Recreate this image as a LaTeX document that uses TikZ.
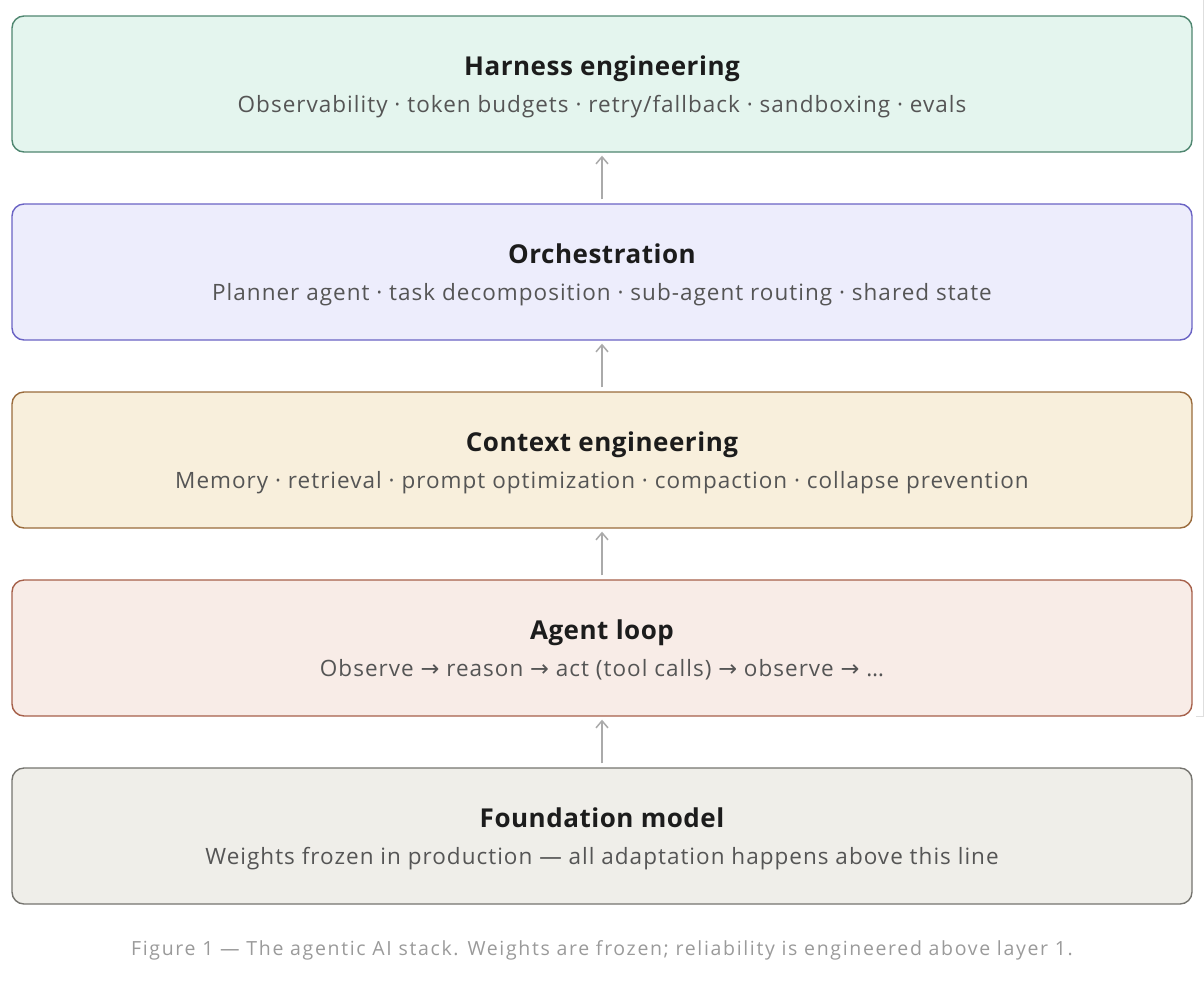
\documentclass[tikz,border=0pt]{standalone}
\usepackage{fontspec}
\setmainfont{Open Sans}
\newfontfamily\symfont{DejaVu Sans}
\usetikzlibrary{arrows.meta}
\definecolor{f1}{HTML}{E4F5EE}\definecolor{d1}{HTML}{4F8670}
\definecolor{f2}{HTML}{EDEDFC}\definecolor{d2}{HTML}{6A63C4}
\definecolor{f3}{HTML}{F8EFDC}\definecolor{d3}{HTML}{9A6B3C}
\definecolor{f4}{HTML}{F8ECE7}\definecolor{d4}{HTML}{A6604A}
\definecolor{f5}{HTML}{EFEEE9}\definecolor{d5}{HTML}{75746F}
\definecolor{titlec}{HTML}{1C1C1C}
\definecolor{subc}{HTML}{555555}
\definecolor{capc}{HTML}{9A9A9A}
\definecolor{arrc}{HTML}{AAAAAA}
\newcommand{\ra}{{\symfont →}}
\tikzset{
  layer/.style={draw=#1, rounded corners=12pt, line width=1.4pt, minimum width=1180pt, minimum height=136pt, inner sep=0pt},
  ttl/.style={font=\fontsize{26}{30}\selectfont\bfseries\addfontfeatures{LetterSpace=2}, text=titlec, inner sep=0pt, anchor=base},
  sub/.style={font=\fontsize{22.5}{26}\selectfont\addfontfeatures{LetterSpace=4.5}, text=subc, inner sep=0pt, anchor=base},
  up/.style={draw=arrc, line width=1.5pt, -{Straight Barb[length=7pt, width=12pt, line width=1.5pt]}, shorten <=4pt, shorten >=3pt}
}
\begin{document}
\begin{tikzpicture}[x=1pt, y=-1pt]
\useasboundingbox (0,0) rectangle (1204,994);
\draw[draw=black!13, line width=1pt] (1203,0) -- (1203,716) -- (1196,716);
\node[layer=d1, fill=f1] (b1) at (602,84) {};
\node[layer=d2, fill=f2] (b2) at (602,272) {};
\node[layer=d3, fill=f3] (b3) at (602,460) {};
\node[layer=d4, fill=f4] (b4) at (602,648) {};
\node[layer=d5, fill=f5] (b5) at (602,836) {};
\node[ttl] (t1) at (602,75) {Harness engineering};
\node[sub] (s1) at (602,112) {Observability · token budgets · retry/fallback · sandboxing · evals};
\node[ttl] (t2) at (602,263) {Orchestration};
\node[sub] (s2) at (602,300) {Planner agent · task decomposition · sub-agent routing · shared state};
\node[ttl] (t3) at (602,451) {Context engineering};
\node[sub] (s3) at (602,488) {Memory · retrieval · prompt optimization · compaction · collapse prevention};
\node[ttl] (t4) at (602,639) {Agent loop};
\node[sub] (s4) at (602,676) {Observe \ra{} reason \ra{} act (tool calls) \ra{} observe \ra{} …};
\node[ttl] (t5) at (602,827) {Foundation model};
\node[sub] (s5) at (602,864) {Weights frozen in production — all adaptation happens above this line};
\node[font=\fontsize{19.5}{22}\selectfont\addfontfeatures{LetterSpace=8.5}, text=capc, inner sep=0pt, anchor=base] (cap) at (602,955) {Figure 1 — The agentic AI stack. Weights are frozen; reliability is engineered above layer 1.};
\draw[up] (b2.north) -- (b1.south);
\draw[up] (b3.north) -- (b2.south);
\draw[up] (b4.north) -- (b3.south);
\draw[up] (b5.north) -- (b4.south);
\end{tikzpicture}
\end{document}
